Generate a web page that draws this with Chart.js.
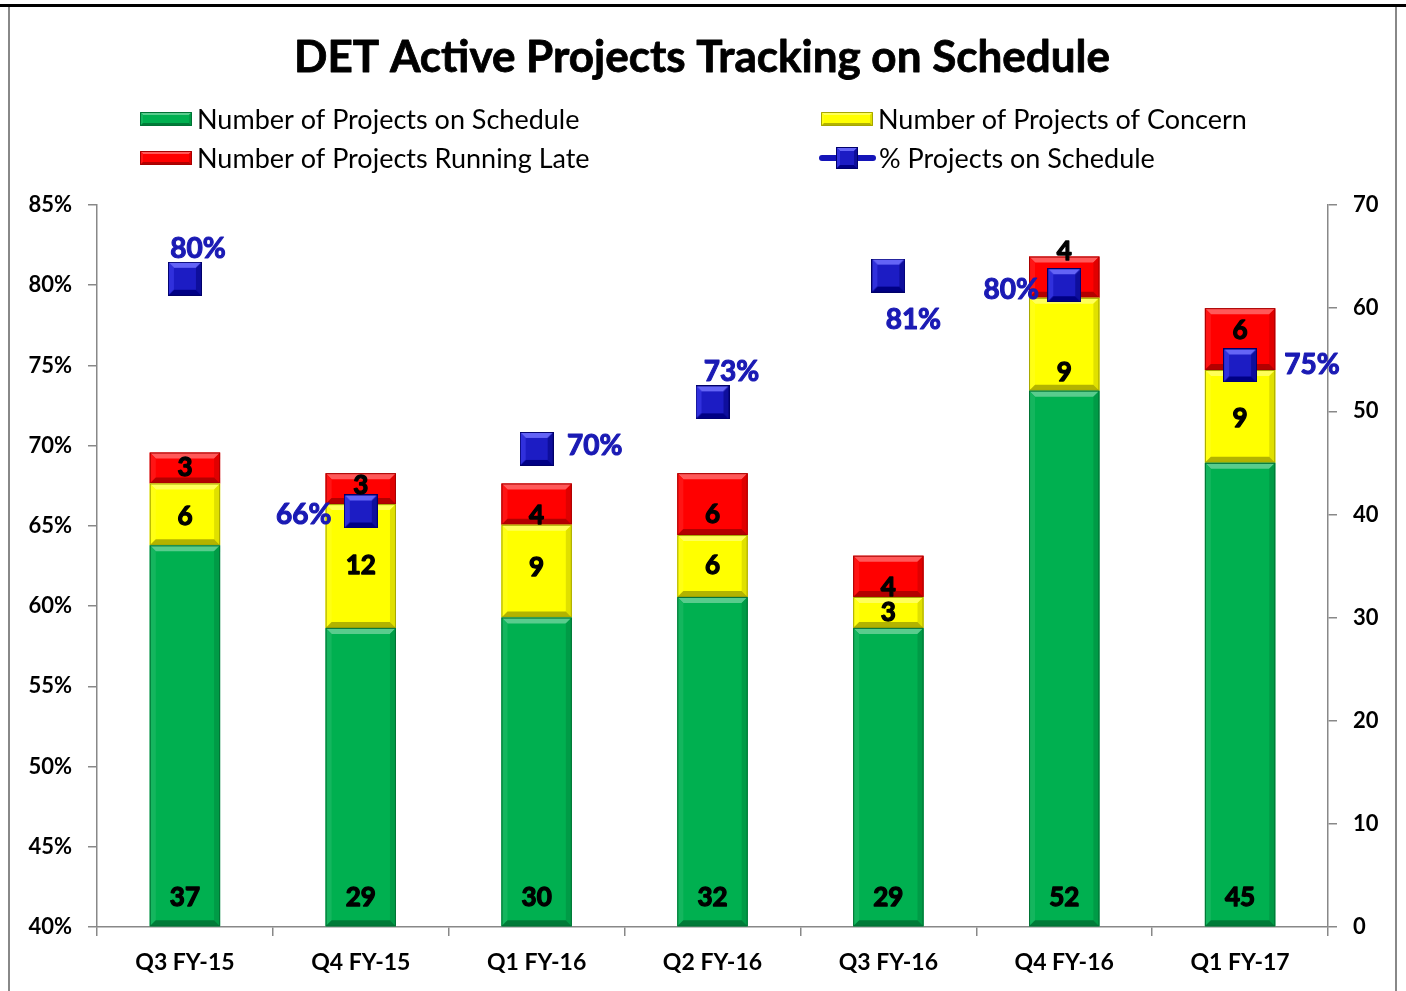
<!DOCTYPE html>
<html>
<head>
<meta charset="utf-8">
<script src="https://cdn.jsdelivr.net/npm/chart.js@4/dist/chart.umd.min.js"></script>
<style>
html,body{margin:0;padding:0;background:#fff;}
canvas{display:block;}
</style>
</head>
<body>
<canvas id="c" width="1406" height="991"></canvas>
<script>
// ---- data ----
const categories = ['Q3 FY-15','Q4 FY-15','Q1 FY-16','Q2 FY-16','Q3 FY-16','Q4 FY-16','Q1 FY-17'];
const onSchedule = [37, 29, 30, 32, 29, 52, 45];
const ofConcern = [6, 12, 9, 6, 3, 9, 9];
const runningLate = [3, 3, 4, 6, 4, 4, 6];
const pctOnSchedule = [80.4, 65.9, 69.8, 72.7, 80.6, 80.0, 75.0];
const pctLabels = ['80%', '66%', '70%', '73%', '81%', '80%', '75%'];
const leftAxis = { min: 40, max: 85, step: 5 };
const rightAxis = { min: 0, max: 70, step: 10 };
const seriesNames = ['Number of Projects on Schedule', 'Number of Projects of Concern', 'Number of Projects Running Late', '% Projects on Schedule'];

// label placement nudges (pixels) as placed in the original
const pctLabelOffsets = [[13,-30],[-57,4],[58,-3],[19,-30],[25,44],[-53,5],[72,0]];
const concernLabelDy = [2, 0, -4, 0, 0, 28, 2];
const lateLabelDy = [0, -3, 11, 10, 11, -26, -8];

const FONT = 'Lato, "Open Sans", sans-serif';
const GREEN = '#00b050', YELLOW = '#ffff00', RED = '#ff0000', BLUE = '#1414b8', PCTBLUE = '#1a1ab4';

function makeMarker(s) {
  const c = document.createElement('canvas');
  c.width = s; c.height = s;
  const g = c.getContext('2d');
  const b = Math.max(3, Math.round(s * 0.17));
  const poly = (pts, col) => { g.beginPath(); g.moveTo(pts[0][0], pts[0][1]); for (let i = 1; i < pts.length; i++) g.lineTo(pts[i][0], pts[i][1]); g.closePath(); g.fillStyle = col; g.fill(); };
  poly([[0,0],[s,0],[s,s],[0,s]], '#1c1cc8');
  poly([[0,0],[s,0],[s-b,b],[b,b]], '#6464f6');
  poly([[0,0],[b,b],[b,s-b],[0,s]], '#3030dc');
  poly([[s,0],[s,s],[s-b,s-b],[s-b,b]], '#0e0e9c');
  poly([[0,s],[b,s-b],[s-b,s-b],[s,s]], '#000084');
  g.fillStyle = '#1c1cc4'; g.fillRect(b, b, s - 2*b, s - 2*b);
  g.strokeStyle = '#00006a'; g.lineWidth = 1; g.strokeRect(0.5, 0.5, s - 1, s - 1);
  return c;
}
const markerImg = makeMarker(34);
const legendMarker = makeMarker(22);

function shade(hex, amt) {
  const n = parseInt(hex.slice(1), 16);
  let r = (n >> 16) & 255, g = (n >> 8) & 255, b = n & 255;
  const f = v => Math.max(0, Math.min(255, Math.round(amt >= 0 ? v + (255 - v) * amt : v * (1 + amt))));
  return 'rgb(' + f(r) + ',' + f(g) + ',' + f(b) + ')';
}

function drawBevelRect(ctx, l, t, r, bt, col, bv, fill) {
  const w = r - l, h = bt - t;
  if (h <= 0) return;
  const b = Math.min(bv, h / 2, w / 2);
  if (fill) { ctx.fillStyle = col; ctx.fillRect(l, t, w, h); }
  const poly = (pts, c) => { ctx.beginPath(); ctx.moveTo(pts[0][0], pts[0][1]); for (let i = 1; i < pts.length; i++) ctx.lineTo(pts[i][0], pts[i][1]); ctx.closePath(); ctx.fillStyle = c; ctx.fill(); };
  poly([[l,t],[r,t],[r-b,t+b],[l+b,t+b]], shade(col, 0.35));
  poly([[l,t],[l+b,t+b],[l+b,bt-b],[l,bt]], shade(col, 0.08));
  poly([[r,t],[r,bt],[r-b,bt-b],[r-b,t+b]], shade(col, -0.12));
  poly([[l,bt],[l+b,bt-b],[r-b,bt-b],[r,bt]], shade(col, -0.3));
  ctx.strokeStyle = shade(col, -0.35);
  ctx.lineWidth = 1;
  ctx.strokeRect(l + 0.5, t + 0.5, w - 1, h - 1);
}

function heavyText(ctx, txt, x, y, col, sw) {
  ctx.fillStyle = col;
  ctx.strokeStyle = col;
  ctx.lineWidth = sw;
  ctx.lineJoin = 'round';
  ctx.strokeText(txt, x, y);
  ctx.fillText(txt, x, y);
}

const customPlugin = {
  id: 'custom',
  beforeDraw(chart) {
    const ctx = chart.ctx;
    ctx.save();
    ctx.fillStyle = '#fff';
    ctx.fillRect(0, 0, chart.width, chart.height);
    ctx.strokeStyle = '#888';
    ctx.lineWidth = 2;
    ctx.beginPath();
    ctx.moveTo(9, 6); ctx.lineTo(9, 991);
    ctx.moveTo(1396, 6); ctx.lineTo(1396, 991);
    ctx.stroke();
    ctx.strokeStyle = '#000';
    ctx.lineWidth = 3;
    ctx.beginPath();
    ctx.moveTo(0, 5.5); ctx.lineTo(1406, 5.5);
    ctx.stroke();
    ctx.restore();
  },
  afterDatasetDraw(chart, args) {
    const ds = chart.data.datasets[args.index];
    if (ds.type === 'line') return;
    const ctx = chart.ctx;
    ctx.save();
    args.meta.data.forEach(el => {
      const p = el.getProps(['x', 'y', 'base', 'width'], true);
      const l = p.x - p.width / 2, r = p.x + p.width / 2;
      const t = Math.min(p.y, p.base), b = Math.max(p.y, p.base);
      drawBevelRect(ctx, l, t, r, b, ds.backgroundColor, 6, false);
    });
    ctx.restore();
  },
  afterDatasetsDraw(chart) {
    const ctx = chart.ctx;
    ctx.save();
    ctx.textAlign = 'center';
    ctx.textBaseline = 'middle';
    ctx.font = 'bold 26px ' + FONT;
    [0, 1, 2].forEach(di => {
      const meta = chart.getDatasetMeta(di);
      const vals = chart.data.datasets[di].data;
      meta.data.forEach((el, i) => {
        const p = el.getProps(['x', 'y', 'base'], true);
        let y;
        if (di === 0) y = p.base - 29;
        else if (di === 1) y = (p.y + p.base) / 2 + concernLabelDy[i];
        else y = (p.y + p.base) / 2 + lateLabelDy[i];
        heavyText(ctx, String(vals[i]), p.x, y, '#000', 1.3);
      });
    });
    ctx.font = 'bold 28px ' + FONT;
    const lm = chart.getDatasetMeta(3);
    lm.data.forEach((el, i) => {
      const o = pctLabelOffsets[i];
      heavyText(ctx, pctLabels[i], el.x + o[0], el.y + o[1], PCTBLUE, 1.1);
    });
    ctx.restore();
  },
  afterDraw(chart) {
    const ctx = chart.ctx;
    ctx.save();
    ctx.textAlign = 'center';
    ctx.textBaseline = 'middle';
    ctx.font = 'bold 44px ' + FONT;
    heavyText(ctx, 'DET Active Projects Tracking on Schedule', 702, 58, '#000', 0.8);
    ctx.textAlign = 'left';
    ctx.font = '27px ' + FONT;
    const items = [
      { x: 140, y: 119, col: GREEN, label: seriesNames[0] },
      { x: 821, y: 119, col: YELLOW, label: seriesNames[1] },
      { x: 140, y: 158, col: RED, label: seriesNames[2] },
    ];
    items.forEach(it => {
      drawBevelRect(ctx, it.x, it.y - 7, it.x + 52, it.y + 7, it.col, 3, true);
      ctx.fillStyle = '#000';
      ctx.fillText(it.label, it.x + 57, it.y + 1);
    });
    ctx.strokeStyle = BLUE;
    ctx.lineWidth = 6;
    ctx.lineCap = 'round';
    ctx.beginPath();
    ctx.moveTo(822, 158); ctx.lineTo(873, 158);
    ctx.stroke();
    ctx.drawImage(legendMarker, 847 - 11, 158 - 11);
    ctx.fillStyle = '#000';
    ctx.fillText(seriesNames[3], 879, 159);
    ctx.restore();
  }
};

const tickFont = { family: FONT, size: 22, weight: 'bold' };

new Chart(document.getElementById('c'), {
  data: {
    labels: categories,
    datasets: [
      { type: 'bar', label: seriesNames[0], data: onSchedule, backgroundColor: GREEN, yAxisID: 'y1', stack: 's', order: 1, borderWidth: 0 },
      { type: 'bar', label: seriesNames[1], data: ofConcern, backgroundColor: YELLOW, yAxisID: 'y1', stack: 's', order: 1, borderWidth: 0 },
      { type: 'bar', label: seriesNames[2], data: runningLate, backgroundColor: RED, yAxisID: 'y1', stack: 's', order: 1, borderWidth: 0 },
      { type: 'line', label: seriesNames[3], data: pctOnSchedule, yAxisID: 'y', showLine: false, pointStyle: markerImg, pointRadius: 17, pointHoverRadius: 17, borderColor: BLUE, backgroundColor: BLUE, order: 0 }
    ]
  },
  options: {
    responsive: false,
    devicePixelRatio: 1,
    animation: false,
    layout: { padding: { top: 205, left: 0, right: 0, bottom: 0 } },
    datasets: { bar: { barPercentage: 0.4, categoryPercentage: 1.0 } },
    plugins: { legend: { display: false }, title: { display: false }, tooltip: { enabled: false } },
    scales: {
      x: {
        stacked: true,
        offset: true,
        grid: { offset: true, drawOnChartArea: false, tickLength: 9, color: '#888', lineWidth: 1.5 },
        border: { color: '#888', width: 1.5 },
        ticks: { font: { family: FONT, size: 23, weight: 'bold' }, color: '#000', padding: 13 },
        afterFit(s) { s.height = 64; }
      },
      y: {
        position: 'left',
        min: leftAxis.min, max: leftAxis.max,
        grid: { drawOnChartArea: false, tickLength: 9, color: '#888', lineWidth: 1.5 },
        border: { color: '#888', width: 1.5 },
        ticks: { stepSize: leftAxis.step, font: tickFont, color: '#000', padding: 16, callback: v => v + '%' },
        afterFit(s) { s.width = 97; }
      },
      y1: {
        position: 'right',
        stacked: true,
        min: rightAxis.min, max: rightAxis.max,
        grid: { drawOnChartArea: false, tickLength: 9, color: '#888', lineWidth: 1.5 },
        border: { color: '#888', width: 1.5 },
        ticks: { stepSize: rightAxis.step, font: tickFont, color: '#000', padding: 16 },
        afterFit(s) { s.width = 78; }
      }
    }
  },
  plugins: [customPlugin]
});
</script>
</body>
</html>
